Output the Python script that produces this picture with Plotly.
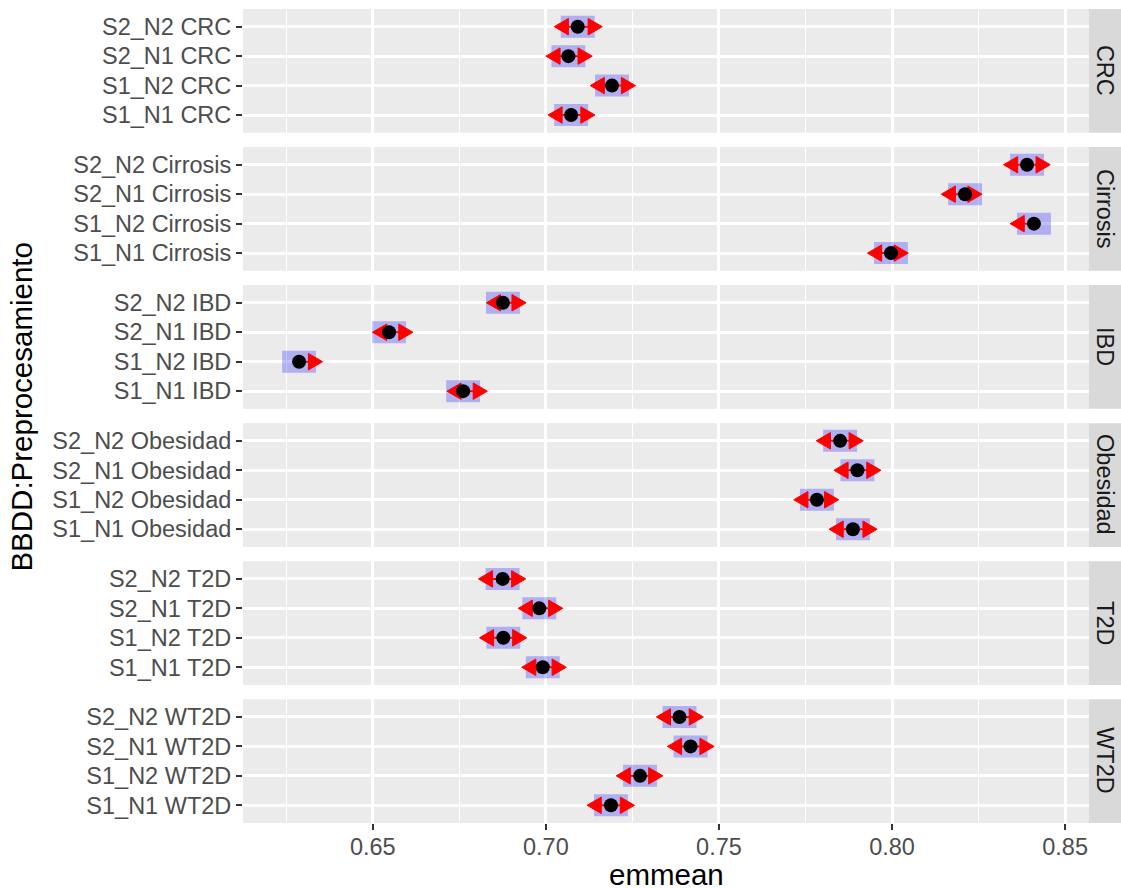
import plotly.graph_objects as go
from plotly.subplots import make_subplots

# Estimated marginal means by database (BBDD) and preprocessing scheme
bbdd = ["CRC", "Cirrosis", "IBD", "Obesidad", "T2D", "WT2D"]
preproc = ["S1_N1", "S1_N2", "S2_N1", "S2_N2"]

# one entry per (bbdd, preproc), bbdd-major order
emmean = [
    0.7073, 0.7191, 0.7065, 0.7092,
    0.7997, 0.8410, 0.8211, 0.8390,
    0.6761, 0.6287, 0.6547, 0.6876,
    0.7887, 0.7783, 0.7900, 0.7850,
    0.6991, 0.6877, 0.6981, 0.6875,
    0.7188, 0.7272, 0.7418, 0.7386,
]
lower_cl = [
    0.7024, 0.7142, 0.7016, 0.7043,
    0.7948, 0.8361, 0.8162, 0.8341,
    0.6712, 0.6238, 0.6498, 0.6827,
    0.7838, 0.7734, 0.7851, 0.7801,
    0.6942, 0.6828, 0.6932, 0.6826,
    0.7139, 0.7223, 0.7369, 0.7337,
]
upper_cl = [
    0.7122, 0.7240, 0.7114, 0.7141,
    0.8046, 0.8459, 0.8260, 0.8439,
    0.6810, 0.6336, 0.6596, 0.6925,
    0.7936, 0.7832, 0.7949, 0.7899,
    0.7040, 0.6926, 0.7030, 0.6924,
    0.7237, 0.7321, 0.7467, 0.7435,
]
# comparison arrow end points (None = no arrow on that side)
lcmpl = [
    0.7006, 0.7128, 0.7000, 0.7024,
    0.7929, 0.8341, 0.8142, 0.8322,
    0.6714, None, 0.6499, 0.6828,
    0.7818, 0.7716, 0.7832, 0.7781,
    0.6930, 0.6808, 0.6920, 0.6805,
    0.7119, 0.7203, 0.7351, 0.7319,
]
rcmpl = [
    0.7142, 0.7259, 0.7134, 0.7163,
    0.8047, None, 0.8260, 0.8457,
    0.6831, 0.6355, 0.6616, 0.6943,
    0.7957, 0.7846, 0.7968, 0.7917,
    0.7059, 0.6945, 0.7049, 0.6942,
    0.7256, 0.7338, 0.7486, 0.7455,
]

x_ticks = [0.65, 0.70, 0.75, 0.80, 0.85]
x_tick_text = ["0.65", "0.70", "0.75", "0.80", "0.85"]

FONT = "Liberation Sans, Arial, Helvetica, sans-serif"
PANEL_BG = "#EBEBEB"
STRIP_BG = "#D9D9D9"
TICK_FONT = 23.5
TITLE_FONT = 29.5
X_RANGE = [0.6125, 0.8569]
Y_RANGE = [-0.6, len(preproc) - 0.4]

# arrowhead size: length along x (axis units) and half-height (category units)
HEAD_LEN = 0.0041
HEAD_HALF = 0.28

n_rows = len(bbdd)
fig = make_subplots(rows=n_rows, cols=1, shared_xaxes=True,
                    vertical_spacing=0.01757)

annotations = []
shapes = []
for r, db in enumerate(bbdd):
    row = r + 1
    yref = "y" + ("" if row == 1 else str(row))
    idx = [r * len(preproc) + j for j in range(len(preproc))]

    # confidence interval bars
    bx, by = [], []
    for j, i in enumerate(idx):
        bx += [lower_cl[i], upper_cl[i], None]
        by += [j, j, None]
    fig.add_trace(go.Scatter(x=bx, y=by, mode="lines", hoverinfo="skip",
                             line=dict(color="rgba(0,0,255,0.25)", width=22),
                             showlegend=False), row=row, col=1)

    # comparison arrows: shafts and closed heads
    sx, sy, hx, hy = [], [], [], []
    for j, i in enumerate(idx):
        for tip, side in ((lcmpl[i], -1), (rcmpl[i], 1)):
            if tip is None:
                continue
            base = tip - side * HEAD_LEN
            sx += [emmean[i], base, None]
            sy += [j, j, None]
            hx += [tip, base, base, tip, None]
            hy += [j, j + HEAD_HALF, j - HEAD_HALF, j, None]
    fig.add_trace(go.Scatter(x=sx, y=sy, mode="lines", hoverinfo="skip",
                             line=dict(color="red", width=2),
                             showlegend=False), row=row, col=1)
    fig.add_trace(go.Scatter(x=hx, y=hy, mode="lines", fill="toself",
                             fillcolor="red", line=dict(color="red", width=1),
                             hoverinfo="skip", showlegend=False), row=row, col=1)

    # means
    fig.add_trace(go.Scatter(x=[emmean[i] for i in idx], y=list(range(len(preproc))),
                             mode="markers", marker=dict(color="black", size=14),
                             showlegend=False,
                             hovertemplate="%{x:.4f}<extra></extra>"),
                  row=row, col=1)

    fig.update_yaxes(
        row=row, col=1, range=Y_RANGE,
        tickvals=list(range(len(preproc))),
        ticktext=[f"{p} {db}" for p in preproc],
        ticks="outside", ticklen=6, tickwidth=2.2, tickcolor="#333333",
        tickfont=dict(family=FONT, size=TICK_FONT, color="#4D4D4D"),
        showgrid=True, gridcolor="white", gridwidth=2.6,
        zeroline=False, showline=False, fixedrange=True,
    )
    is_bottom = row == n_rows
    fig.update_xaxes(
        row=row, col=1, range=X_RANGE,
        tickvals=x_ticks, ticktext=x_tick_text,
        showticklabels=is_bottom,
        ticks="outside" if is_bottom else "", ticklen=6, tickwidth=2.2,
        tickcolor="#333333", ticklabelstandoff=-3,
        tickfont=dict(family=FONT, size=TICK_FONT, color="#4D4D4D"),
        showgrid=True, gridcolor="white", gridwidth=2.6,
        minor=dict(tick0=0.625, dtick=0.05, showgrid=True,
                   gridcolor="white", gridwidth=1.3),
        zeroline=False, showline=False, fixedrange=True,
    )

    # facet strip on the right
    shapes.append(dict(type="rect", xref="paper", yref=yref + " domain",
                       x0=1.0, x1=1.0378, y0=0, y1=1,
                       fillcolor=STRIP_BG, line=dict(width=0), layer="below"))
    annotations.append(dict(text=db, xref="paper", yref=yref + " domain",
                            x=1.0189, y=0.5, xanchor="center", yanchor="middle",
                            textangle=90, showarrow=False,
                            font=dict(family=FONT, size=TICK_FONT, color="#1A1A1A")))

# axis titles
annotations.append(dict(text="emmean", xref="paper", yref="paper",
                        x=0.5, y=-0.0627, xanchor="center", yanchor="middle",
                        showarrow=False,
                        font=dict(family=FONT, size=TITLE_FONT, color="black")))
annotations.append(dict(text="BBDD:Preprocesamiento", xref="paper", yref="paper",
                        x=-0.262, y=0.512, xanchor="center", yanchor="middle",
                        textangle=-90, showarrow=False,
                        font=dict(family=FONT, size=TITLE_FONT, color="black")))

fig.update_layout(
    width=1121, height=888,
    margin=dict(l=243, r=32, t=9, b=65, pad=0),
    paper_bgcolor="white", plot_bgcolor=PANEL_BG,
    font=dict(family=FONT),
    annotations=annotations, shapes=shapes,
    showlegend=False,
)

fig.write_html("out.html")
